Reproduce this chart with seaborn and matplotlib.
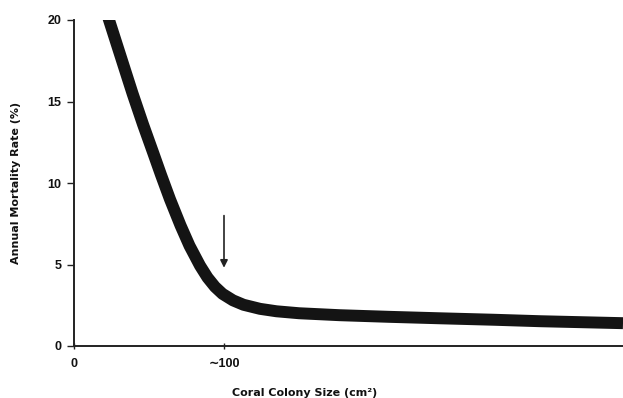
import matplotlib
matplotlib.use('Agg')
import matplotlib.pyplot as plt
import seaborn as sns
import pandas as pd

# Values
colony_size = [20, 23, 31, 39, 46, 53, 58, 64, 71, 77, 84, 89, 94, 99, 106, 113,
               124, 135, 150, 177, 210, 244, 280, 311, 366]
mortality = [21.0, 20.1, 17.8, 15.5, 13.6, 11.8, 10.5, 9.0, 7.4, 6.15, 4.93, 4.2,
             3.63, 3.2, 2.8, 2.53, 2.28, 2.13, 2.01, 1.89, 1.79, 1.70, 1.61, 1.52, 1.4]

y_ticks = [0, 5, 10, 15, 20]
x_ticks = [0, 100]
x_tick_labels = ['0', '\u223c100']

arrow_x = 100
arrow_from, arrow_to = 8.0, 4.8


def create_plot():
    sns.set_style('ticks')
    plt.rcParams['font.family'] = ['Liberation Sans', 'DejaVu Sans']

    df = pd.DataFrame({'size': colony_size, 'mortality': mortality})

    fig = plt.figure(figsize=(6.23, 3.98), dpi=100)
    ax = fig.add_axes([74 / 623, 52 / 398, 549 / 623, 326 / 398])

    sns.lineplot(data=df, x='size', y='mortality', color='#141414',
                 linewidth=8.6, ax=ax, sort=False)
    for line in ax.get_lines():
        line.set_solid_capstyle('butt')
        line.set_solid_joinstyle('round')

    # Arrow marking the size threshold
    ax.annotate('', xy=(arrow_x, arrow_to), xytext=(arrow_x, arrow_from),
                arrowprops=dict(arrowstyle='-|>', color='#222222', lw=1.2,
                                mutation_scale=11, shrinkA=0, shrinkB=0))

    ax.set_xlim(0, 366)
    ax.set_ylim(0, 20)
    ax.set_yticks(y_ticks)
    ax.set_xticks(x_ticks)
    ax.set_xticklabels(x_tick_labels)

    ax.set_xlabel('Coral Colony Size (cm\u00b2)', fontsize=8, fontweight='bold',
                  color='#111111', family='DejaVu Sans')
    ax.set_ylabel('Annual Mortality Rate (%)', fontsize=8, fontweight='bold',
                  color='#111111', family='DejaVu Sans')
    ax.xaxis.set_label_coords(0.42, -0.13)
    ax.yaxis.set_label_coords(-0.097, 0.5)

    sns.despine(ax=ax)
    for side in ['left', 'bottom']:
        ax.spines[side].set_color('#222222')
        ax.spines[side].set_linewidth(1.4)

    ax.tick_params(axis='y', length=5, width=1, colors='#222222', labelsize=9, pad=4)
    ax.tick_params(axis='x', direction='inout', length=5, width=1, colors='#222222',
                   labelsize=9, pad=6)
    for lab in ax.get_xticklabels() + ax.get_yticklabels():
        lab.set_fontweight('bold')
        lab.set_color('#111111')

    fig.savefig('out.png', dpi=100)
    plt.close(fig)


if __name__ == '__main__':
    create_plot()
